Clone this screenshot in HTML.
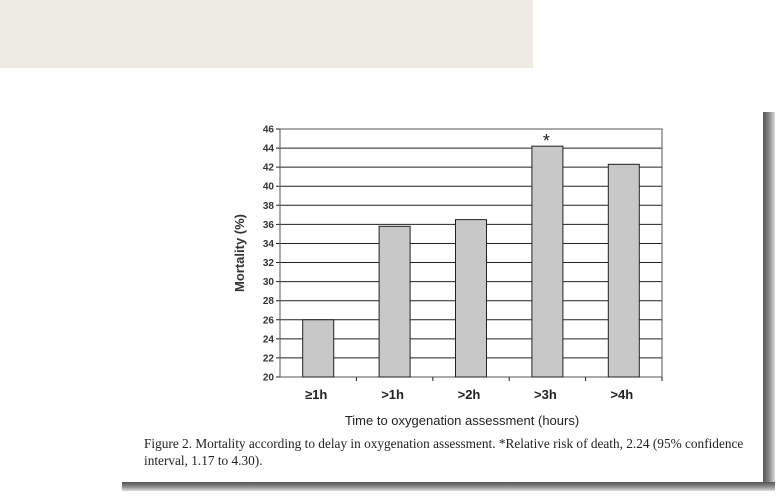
<!DOCTYPE html>
<html><head><meta charset="utf-8"><style>
body{margin:0;width:781px;height:498px;background:#fff;position:relative;overflow:hidden;font-family:"Liberation Sans",sans-serif}
.abs{position:absolute}
</style></head><body>
<div class="abs" style="left:0;top:0;width:533px;height:68px;background:#eeebe2"></div>
<div class="abs" style="left:763px;top:112px;width:12px;height:378px;background:linear-gradient(90deg,#555,#888,#ddd)"></div>
<div class="abs" style="left:122px;top:482px;width:653px;height:9px;background:linear-gradient(180deg,#555,#888,#ddd)"></div>
<svg class="abs" style="left:0;top:0" width="781" height="498">
<g id="g"></g>
</svg>
<div class="abs" style="left:144px;top:435px;width:620px;font-family:'Liberation Serif',serif;font-size:13.3px;line-height:17px;color:#222">Figure 2. Mortality according to delay in oxygenation assessment. *Relative risk of death, 2.24 (95% confidence interval, 1.17 to 4.30).</div>
<script>
const categories=["≥1h",">1h",">2h",">3h",">4h"];
const values=[26,35.8,36.5,44.2,42.3];
const ticks=[20,22,24,26,28,30,32,34,36,38,40,42,44,46];
const starred=[false,false,false,true,false];
const L=280,R=662,T=129,B=377,ymin=20,ymax=46;
const y=v=>B-(v-ymin)/(ymax-ymin)*(B-T);
const cw=(R-L)/categories.length;
const x=i=>L+cw*(i+0.5);
const g=document.getElementById('g');
const NS='http://www.w3.org/2000/svg';
function mk(t,a,txt){const e=document.createElementNS(NS,t);for(const k in a)e.setAttribute(k,a[k]);if(txt!=null)e.textContent=txt;g.appendChild(e);return e;}
ticks.forEach(t=>{
 const l=mk('line',{x1:L-4,x2:R,y1:y(t),y2:y(t),stroke:'#222','stroke-width':1});
 
 
 const s=mk('text',{x:L-6,y:y(t)+3.5,'text-anchor':'end','font-size':10,'font-weight':'bold',fill:'#333'},t);
 
 
});
const f=mk('rect',{x:L,y:T,width:R-L,height:B-T,fill:'none',stroke:'#555'});


categories.forEach((c,i)=>{
 const r=mk('rect',{x:x(i)-15.5,y:y(values[i]),width:31,height:B-y(values[i]),fill:'#c8c8c8',stroke:'#222','stroke-width':1});
 
 
 const tk=mk('line',{x1:L+cw*(i+1),x2:L+cw*(i+1),y1:B,y2:B+4,stroke:'#222'});
 
 
 const s=mk('text',{x:x(i)-2,y:B+22,'text-anchor':'middle','font-size':13,'font-weight':'bold',fill:'#222'},c);
 
 
 if(starred[i]){const a=mk('text',{x:x(i)-1,y:y(values[i])+1,'text-anchor':'middle','font-size':18,fill:'#222'},'*');
 
 }
});
const yt=mk('text',{x:244,y:(T+B)/2,'text-anchor':'middle','font-size':13,'font-weight':'bold',fill:'#333',transform:'rotate(-90 244 '+((T+B)/2)+')'},'Mortality (%)');


const xt=mk('text',{x:462,y:425,'text-anchor':'middle','font-size':13,fill:'#222'},'Time to oxygenation assessment (hours)');


</script>
</body></html>
